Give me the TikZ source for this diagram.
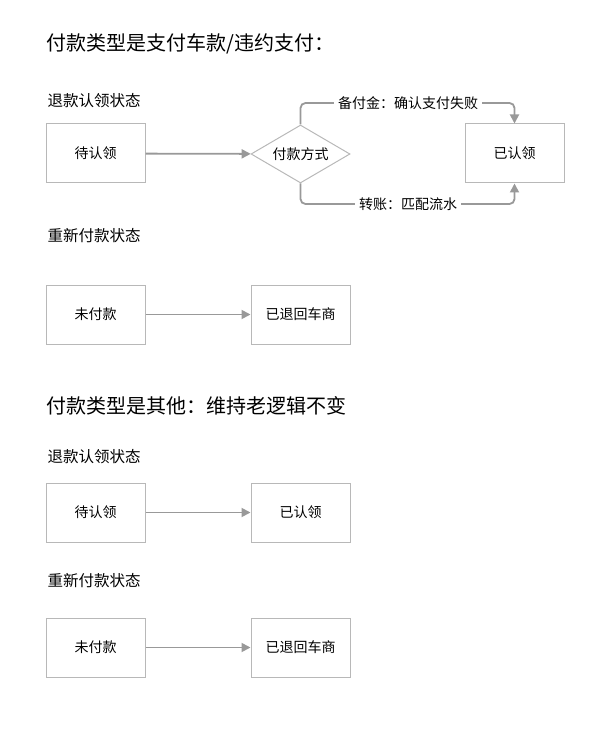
\documentclass[tikz,border=0pt]{standalone}
\usepackage{fontspec}
\setmainfont{Noto Sans CJK SC}
\usetikzlibrary{arrows.meta,shapes.geometric}
\definecolor{boxgray}{HTML}{B8B8B8}
\definecolor{linegray}{HTML}{999999}
\begin{document}
\begin{tikzpicture}[x=1pt,y=-1pt,
  statebox/.style={draw=boxgray,line width=1pt,minimum width=99pt,minimum height=59pt,inner sep=0pt,font=\fontsize{14}{16}\selectfont},
  decide/.style={draw=boxgray,line width=1pt,diamond,aspect=1.7,minimum width=99pt,minimum height=58pt,inner sep=0pt,font=\fontsize{14}{16}\selectfont},
  flow/.style={draw=linegray,line width=1.8pt,-{Triangle[length=9pt,width=9pt]}},
  heading/.style={anchor=west,font=\fontsize{20}{24}\selectfont},
  sublabel/.style={anchor=west,font=\fontsize{15.5}{18}\selectfont},
  tag/.style={fill=white,inner sep=4pt,font=\fontsize{14}{16}\selectfont}]
\useasboundingbox (0,0) rectangle (609,743);
% first case
\node[heading] (t1) at (43,44) {付款类型是支付车款/违约支付：};
\node[sublabel] (s1) at (44,101) {退款认领状态};
\node[statebox] (a1) at (95.5,153.5) {待认领};
\node[decide] (d1) at (300.5,154) {付款方式};
\node[statebox] (b1) at (514.5,153.5) {已认领};
\draw[flow] (a1) -- (d1);
\draw[flow,rounded corners=5pt] (d1.north) -- (300.5,103) -- (514.5,103) -- (b1.north);
\draw[flow,rounded corners=5pt] (d1.south) -- (300.5,204) -- (514.5,204) -- (b1.south);
\node[tag] (p1) at (408,103) {备付金：确认支付失败};
\node[tag] (p2) at (408,204) {转账：匹配流水};
\node[sublabel] (s2) at (44,236) {重新付款状态};
\node[statebox] (a2) at (95.5,314.5) {未付款};
\node[statebox] (b2) at (300.5,314.5) {已退回车商};
\draw[flow] (a2) -- (b2);
% second case
\node[heading] (t2) at (43,406) {付款类型是其他：维持老逻辑不变};
\node[sublabel] (s3) at (44,457) {退款认领状态};
\node[statebox] (a3) at (95.5,512.5) {待认领};
\node[statebox] (b3) at (300.5,512.5) {已认领};
\draw[flow] (a3) -- (b3);
\node[sublabel] (s4) at (44,581) {重新付款状态};
\node[statebox] (a4) at (95.5,647.5) {未付款};
\node[statebox] (b4) at (300.5,647.5) {已退回车商};
\draw[flow] (a4) -- (b4);
\end{tikzpicture}
\end{document}
